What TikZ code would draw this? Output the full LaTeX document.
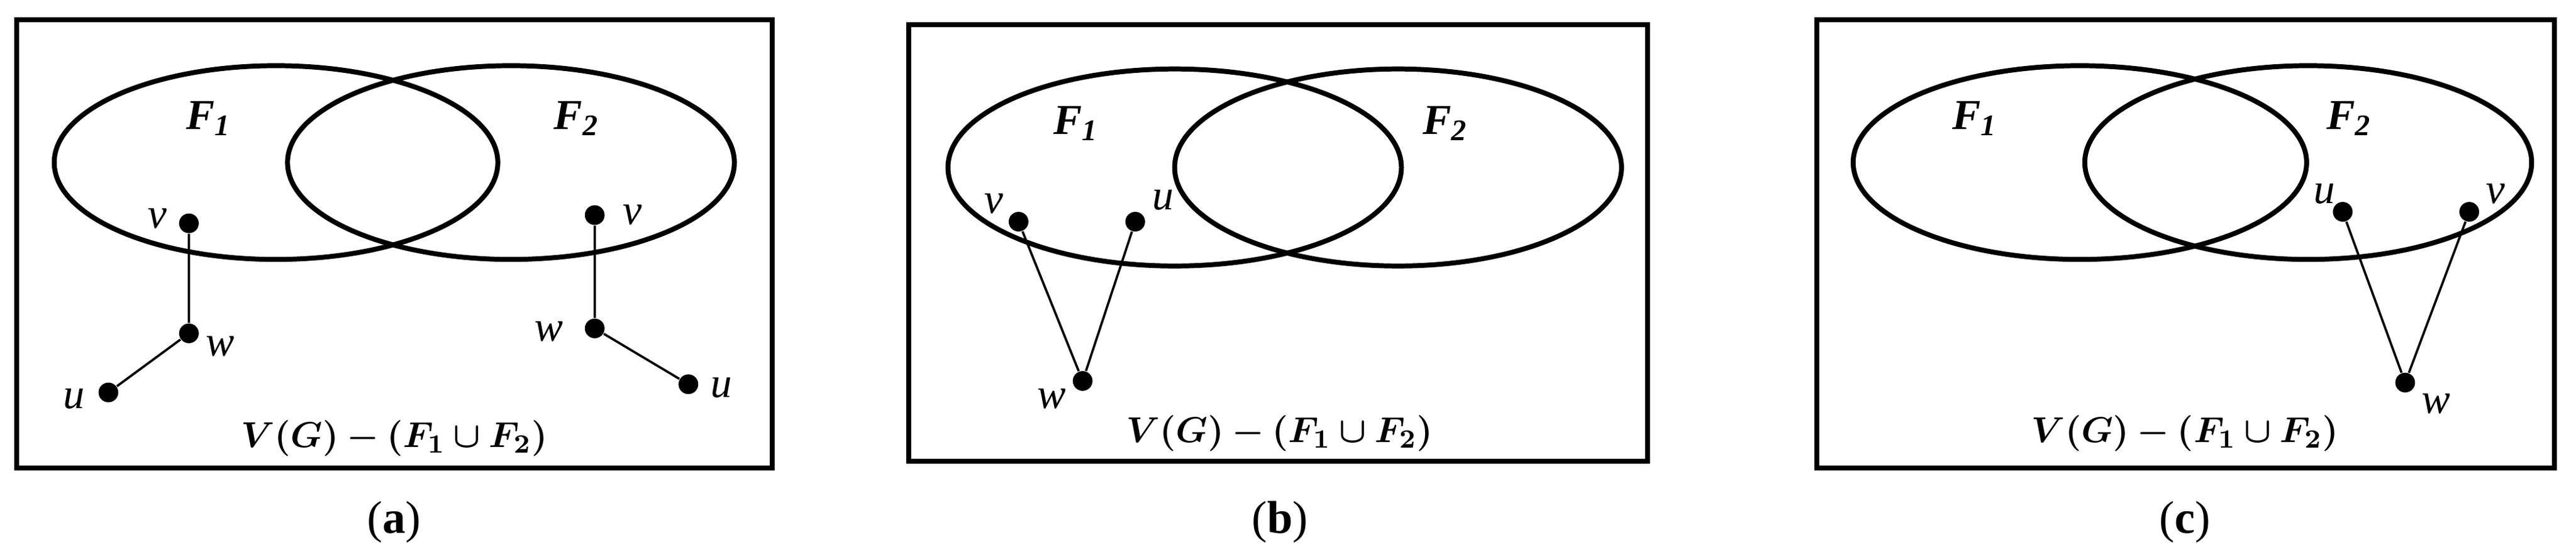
\documentclass[tikz,border=0pt]{standalone}
\usepackage{amsmath,bm}
\usepackage{fontspec}
\setmainfont{Liberation Serif}
\begin{document}
\begin{tikzpicture}[x=0.5pt,y=-0.5pt,
 box/.style={line width=1.5pt},
 ell/.style={line width=1.5pt},
 dot/.style={circle,fill=black,inner sep=0pt,minimum size=6pt},
 edge/.style={line width=0.7pt},
 lab/.style={font=\fontsize{13}{13}\selectfont\itshape,inner sep=1pt},
 fl/.style={font=\fontsize{13}{13}\selectfont\bfseries\itshape},
 vt/.style={font=\fontsize{11}{11}\selectfont},
 captxt/.style={font=\fontsize{14}{14}\selectfont}]
\useasboundingbox (0,0) rectangle (1568,336);
% (a)
\draw[box] (10,12) rectangle (470,285);
\draw[ell] (168,99) ellipse [x radius=135,y radius=59];
\draw[ell] (311,99) ellipse [x radius=136,y radius=59];
\node[fl] at (127,72) {F\textsubscript{1}};
\node[fl] at (351,72) {F\textsubscript{2}};
\node[dot] (av) at (115,136) {}; \node[lab] at (96,133) {v};
\node[dot] (aw) at (115,203) {}; \node[lab] at (134,211) {w};
\node[dot] (au) at (66,239) {}; \node[lab] at (45,243) {u};
\draw[edge] (av)--(aw)--(au);
\node[dot] (bv) at (362,131) {}; \node[lab] at (385,131) {v};
\node[dot] (bw) at (362,200) {}; \node[lab] at (334,202) {w};
\node[dot] (bu) at (419,234) {}; \node[lab] at (439,236) {u};
\draw[edge] (bv)--(bw)--(bu);
\node[vt] at (240,267) {$\bm{V(G)-(F_1\cup F_2)}$};
\node[captxt] at (240,318) {(\textbf{a})};
% (b)
\draw[box] (553,15) rectangle (1003,281);
\draw[ell] (715,102) ellipse [x radius=138,y radius=60];
\draw[ell] (851,102) ellipse [x radius=136,y radius=60];
\node[fl] at (655,75) {F\textsubscript{1}};
\node[fl] at (880,75) {F\textsubscript{2}};
\node[dot] (cv) at (620,135) {}; \node[lab] at (605,124) {v};
\node[dot] (cu) at (691,135) {}; \node[lab] at (708,122) {u};
\node[dot] (cw) at (659,232) {}; \node[lab] at (640,243) {w};
\draw[edge] (cv)--(cw)--(cu);
\node[vt] at (779,264) {$\bm{V(G)-(F_1\cup F_2)}$};
\node[captxt] at (779,318) {(\textbf{b})};
% (c)
\draw[box] (1106,12) rectangle (1555,285);
\draw[ell] (1266,99) ellipse [x radius=138,y radius=59];
\draw[ell] (1405,99) ellipse [x radius=136,y radius=59];
\node[fl] at (1202,72) {F\textsubscript{1}};
\node[fl] at (1430,72) {F\textsubscript{2}};
\node[dot] (du) at (1426,129) {}; \node[lab] at (1415,118) {u};
\node[dot] (dv) at (1503,129) {}; \node[lab] at (1519,118) {v};
\node[dot] (dw) at (1464,233) {}; \node[lab] at (1483,246) {w};
\draw[edge] (du)--(dw)--(dv);
\node[vt] at (1330,264) {$\bm{V(G)-(F_1\cup F_2)}$};
\node[captxt] at (1330,318) {(\textbf{c})};
\end{tikzpicture}
\end{document}
